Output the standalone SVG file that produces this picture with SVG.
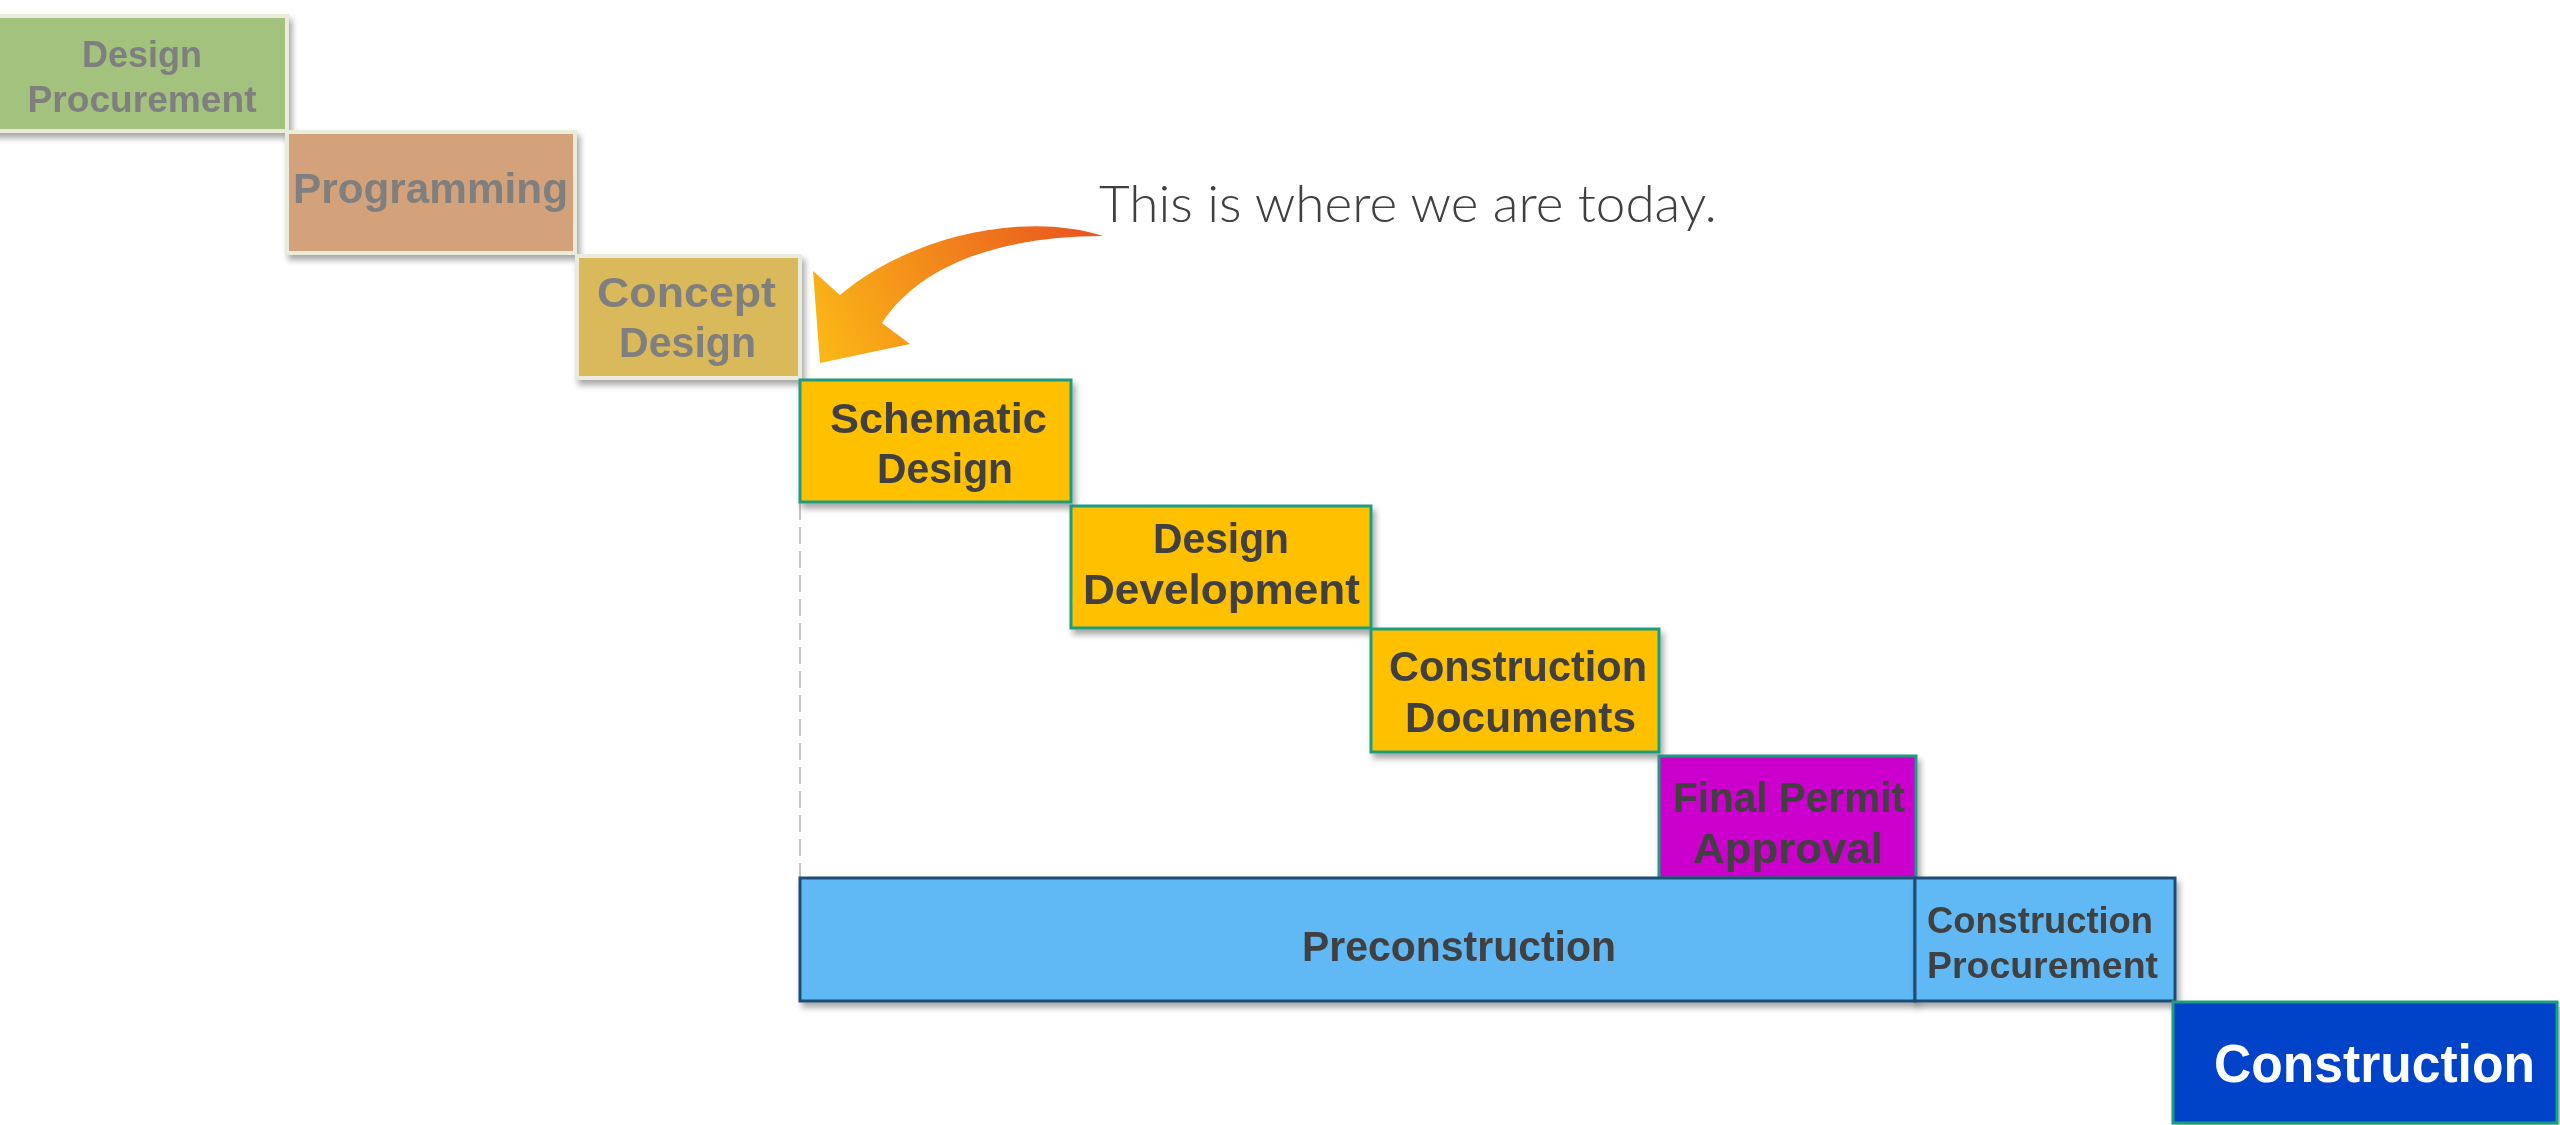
<svg xmlns="http://www.w3.org/2000/svg" width="2560" height="1125" viewBox="0 0 2560 1125">
<defs>
<filter id="sh" x="-10%" y="-10%" width="130%" height="140%">
<feDropShadow dx="3" dy="5" stdDeviation="3" flood-color="#000" flood-opacity="0.35"/>
</filter>
<linearGradient id="ag" gradientUnits="userSpaceOnUse" x1="1090" y1="232" x2="820" y2="360">
<stop offset="0" stop-color="#e9561f"/>
<stop offset="1" stop-color="#fbb816"/>
</linearGradient>
<style>
.lbl{font-family:"Liberation Sans","DejaVu Sans",sans-serif;font-weight:bold;text-anchor:middle}
.fade{fill:#7f7f7f;font-size:38px}
.dark{fill:#404040;font-size:42px}
.old{stroke:#ebebdc;stroke-width:4}
.yel{fill:#ffc000;stroke:#1f9c80;stroke-width:3}
.blu{fill:#61b8f5;stroke:#1f4e79;stroke-width:3}
</style>
</defs>
<rect width="2560" height="1125" fill="#ffffff"/>

<g id="connectors">
<line x1="800" y1="503" x2="800" y2="877" stroke="#c4c4c4" stroke-width="2" stroke-dasharray="17 7"/>
<path d="M 1103 236 C 1030 212, 915 232, 840 295 L 813 271 L 820 363 L 910 344 L 882 323 C 920 265, 1000 236, 1103 236 Z" fill="url(#ag)"/>
</g>

<g id="design-procurement" filter="url(#sh)">
<rect x="-10" y="16" width="297" height="115" fill="#a2c27e" class="old"/>
<text class="lbl fade" x="142" y="67" textLength="120" lengthAdjust="spacingAndGlyphs" style="font-size:37px">Design</text>
<text class="lbl fade" x="142" y="112" textLength="229" lengthAdjust="spacingAndGlyphs" style="font-size:37px">Procurement</text>
</g>

<g id="programming" filter="url(#sh)">
<rect x="287" y="132" width="288" height="121" fill="#d4a27a" class="old"/>
<text class="lbl fade" x="430.5" y="203" textLength="275" lengthAdjust="spacingAndGlyphs" style="font-size:42px">Programming</text>
</g>

<g id="concept-design" filter="url(#sh)">
<rect x="577" y="256" width="223" height="122" fill="#d9b95a" class="old"/>
<text class="lbl fade" x="686.5" y="307" textLength="179" lengthAdjust="spacingAndGlyphs" style="font-size:42px">Concept</text>
<text class="lbl fade" x="687.5" y="357" textLength="137" lengthAdjust="spacingAndGlyphs" style="font-size:42px">Design</text>
</g>

<g id="schematic-design" filter="url(#sh)">
<rect x="800" y="380" width="271" height="122" class="yel"/>
<text class="lbl dark" x="938.5" y="433" textLength="217" lengthAdjust="spacingAndGlyphs">Schematic</text>
<text class="lbl dark" x="945" y="483" textLength="136" lengthAdjust="spacingAndGlyphs">Design</text>
</g>

<g id="design-development" filter="url(#sh)">
<rect x="1071" y="506" width="300" height="122" class="yel"/>
<text class="lbl dark" x="1221" y="553" textLength="136" lengthAdjust="spacingAndGlyphs">Design</text>
<text class="lbl dark" x="1221.5" y="604" textLength="277" lengthAdjust="spacingAndGlyphs">Development</text>
</g>

<g id="construction-documents" filter="url(#sh)">
<rect x="1371" y="629" width="288" height="123" class="yel"/>
<text class="lbl dark" x="1518" y="681" textLength="258" lengthAdjust="spacingAndGlyphs">Construction</text>
<text class="lbl dark" x="1520.5" y="732" textLength="231" lengthAdjust="spacingAndGlyphs">Documents</text>
</g>

<g id="final-permit-approval" filter="url(#sh)">
<rect x="1659" y="756" width="257" height="122" fill="#cc00cc" stroke="#1f9c80" stroke-width="3"/>
<text class="lbl dark" x="1789" y="812" textLength="232" lengthAdjust="spacingAndGlyphs">Final Permit</text>
<text class="lbl dark" x="1788" y="863" textLength="190" lengthAdjust="spacingAndGlyphs">Approval</text>
</g>

<g id="preconstruction" filter="url(#sh)">
<rect x="800" y="878" width="1115" height="123" class="blu"/>
<text class="lbl dark" x="1459" y="961" textLength="314" lengthAdjust="spacingAndGlyphs">Preconstruction</text>
</g>

<g id="construction-procurement" filter="url(#sh)">
<rect x="1915" y="878" width="260" height="123" class="blu"/>
<text class="lbl dark" x="2040" y="933" textLength="226" lengthAdjust="spacingAndGlyphs" style="font-size:36px">Construction</text>
<text class="lbl dark" x="2042.5" y="978" textLength="231" lengthAdjust="spacingAndGlyphs" style="font-size:36px">Procurement</text>
</g>

<g id="construction" filter="url(#sh)">
<rect x="2173" y="1002" width="384" height="121" fill="#0043c8" stroke="#1f9c80" stroke-width="3"/>
<text class="lbl" x="2374.5" y="1082" textLength="321" lengthAdjust="spacingAndGlyphs" style="font-size:54px;fill:#ffffff">Construction</text>
</g>

<g id="callout">
<text x="1099" y="222" textLength="618" lengthAdjust="spacingAndGlyphs" style="font-family:Lato,'Open Sans',sans-serif;font-weight:300;font-size:52px;fill:#404040">This is where we are today.</text>
</g>
</svg>
